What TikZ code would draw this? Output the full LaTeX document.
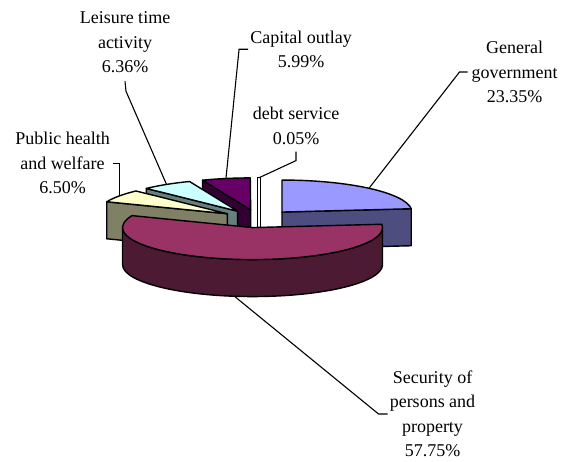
\documentclass[tikz,border=0pt]{standalone}
\usepackage{fontspec}
\setmainfont{Liberation Serif}
\usetikzlibrary{calc}
\definecolor{govtop}{HTML}{9999FF}
\definecolor{govside}{HTML}{4D4D80}
\definecolor{sectop}{HTML}{993366}
\definecolor{secside}{HTML}{4D1A33}
\definecolor{healthtop}{HTML}{FFFFCC}
\definecolor{healthside}{HTML}{808066}
\definecolor{leistop}{HTML}{CCFFFF}
\definecolor{leisside}{HTML}{668080}
\definecolor{captop}{HTML}{660066}
\definecolor{capside}{HTML}{330033}

\begin{document}
\begin{tikzpicture}[x=1pt, y=1pt,
slice/.style  = {draw, line width=1.4pt, line join=round},
leader/.style = {draw, line width=1.1pt},
share/.style  = {align=center, inner sep=0pt,
                 font=\fontsize{18}{24.5}\selectfont}
                   ]
\useasboundingbox (0,0) rectangle (568,-461);
\coordinate (c) at (257.6,-218.7);
% tips of the slices, pushed out along their middle angle
\coordinate (debt)   at ($(c)+(90.09:36.4 and 8.96)$);
\coordinate (cap)    at ($(c)+(100.96:36.4 and 8.96)$);
\coordinate (leis)   at ($(c)+(123.19:36.4 and 8.96)$);
\coordinate (health) at ($(c)+(146.34:36.4 and 8.96)$);
\coordinate (gov)    at ($(c)+(47.97:36.4 and 8.96)$);
\coordinate (sec)    at ($(c)+(-98.01:36.4 and 8.96)$);

% debt service
\filldraw[slice, fill=white] ($(debt)+(0,32)$) rectangle ($(debt)+(3,-37)$);
% capital outlay
\filldraw[slice, fill=capside] (cap) -- ++(111.74:130 and 32) -- ++(0,-37)
      -- ($(cap)+(0,-37)$) -- cycle;
\filldraw[slice, fill=captop] (cap) -- ++(90.18:130 and 32)
      arc[start angle=90.18, end angle=111.74, x radius=130, y radius=32] -- cycle;
% leisure time activity
\filldraw[slice, fill=leisside] (leis) -- ++(134.64:130 and 32) -- ++(0,-37)
      -- ($(leis)+(0,-37)$) -- cycle;
\filldraw[slice, fill=leistop] (leis) -- ++(111.74:130 and 32)
      arc[start angle=111.74, end angle=134.64, x radius=130, y radius=32] -- cycle;
% public health and welfare
\filldraw[slice, fill=healthside] (health) -- ++(158.04:130 and 32) -- ++(0,-37)
      -- ($(health)+(0,-37)$) -- cycle;
\filldraw[slice, fill=healthtop] (health) -- ++(134.64:130 and 32)
      arc[start angle=134.64, end angle=158.04, x radius=130, y radius=32] -- cycle;
% general government
\filldraw[slice, fill=govside] (gov) -- ++(5.94:130 and 32) -- ++(0,-37)
      -- ($(gov)+(0,-37)$) -- cycle;
\filldraw[slice, fill=govtop] (gov) -- ++(5.94:130 and 32)
      arc[start angle=5.94, end angle=90, x radius=130, y radius=32] -- cycle;
% security of persons and property
\filldraw[slice, fill=secside] ($(sec)+(180:130 and 32)$)
      arc[start angle=180, end angle=360, x radius=130, y radius=32] -- ++(0,-37)
      arc[start angle=360, end angle=180, x radius=130, y radius=32] -- cycle;
\filldraw[slice, fill=sectop] (sec) -- ++(5.94:130 and 32)
      arc[start angle=5.94, end angle=-201.96, x radius=130, y radius=32] -- cycle;

% points on the rims where the leaders end
\coordinate (debtrim)   at ($(debt)+(1.5,32)$);
\coordinate (caprim)    at ($(cap)+(100.96:130 and 32)$);
\coordinate (leisrim)   at ($(leis)+(123.19:130 and 32)$);
\coordinate (healthrim) at ($(health)+(146.34:130 and 32)$);
\coordinate (govrim)    at ($(gov)+(47.97:130 and 32)$);
\coordinate (secrim)    at ($(sec)+(-98.01:130 and 32)+(0,-37)$);

\node[share] (leislab)   at (125,-42.5)  {Leisure time\\activity\\6.36\%};
\node[share] (caplab)    at (301,-49.2)  {Capital outlay\\5.99\%};
\node[share] (debtlab)   at (296,-125.8) {debt service\\0.05\%};
\node[share] (govlab)    at (514.7,-72)  {General\\government\\23.35\%};
\node[share] (healthlab) at (62.5,-163.3) {Public health\\and welfare\\6.50\%};
\node[share] (seclab)    at (432.5,-414) {Security of\\persons and\\property\\57.75\%};

\draw[leader] ([yshift=-8]leislab.south) -- ++(1,-10) -- (leisrim);
\draw[leader] ([xshift=-2]caplab.west) -- ++(-9,0) -- (caprim);
\draw[leader] ([yshift=-7]debtlab.south) -- ++(0,-9) -- (debtrim);
\draw[leader] ([xshift=-4]govlab.west) -- ++(-8,0) -- (govrim);
\draw[leader] ([xshift=3]healthlab.east) -- (healthrim |- healthlab.east) -- (healthrim);
\draw[leader] ([xshift=-2]seclab.west) -- ++(-9,0) -- (secrim);

\end{tikzpicture}
\end{document}
